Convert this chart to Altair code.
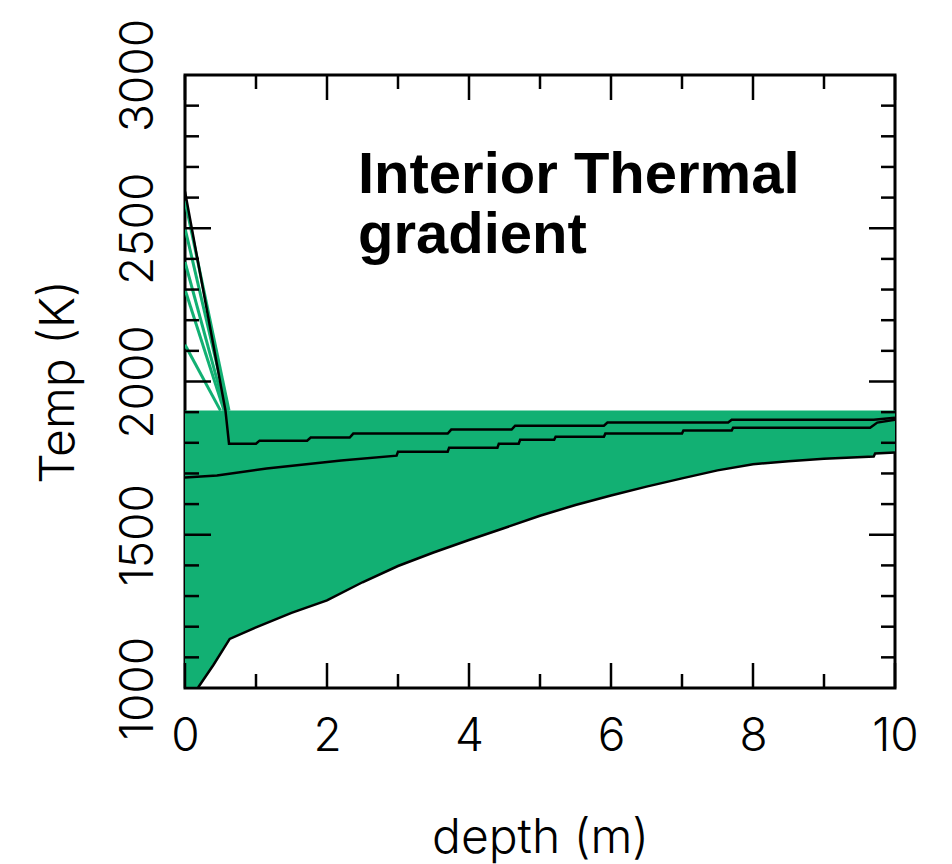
import altair as alt
import pandas as pd

# ---- data ----
lower_depth = [0, 0.18, 0.4, 0.63, 1.0, 1.5, 2.0, 2.5, 3.0, 3.5, 4.0, 4.5, 5.0, 5.5,
               6.0, 6.5, 7.0, 7.5, 8.0, 8.5, 9.0, 9.7, 9.72, 10]
lower_temp = [1000, 1000, 1075, 1160, 1198, 1245, 1286, 1345, 1398, 1442, 1483, 1522,
              1562, 1597, 1628, 1657, 1684, 1710, 1730, 1740, 1748, 1755, 1765, 1768]
upper_temp = [1905] * len(lower_depth)

a_depth = [0, 0.57, 0.62, 1.0, 1.05, 1.72, 1.77, 2.32, 2.37, 3.7, 3.75, 4.6, 4.65,
           5.9, 5.95, 7.65, 7.7, 9.7, 10]
a_temp = [2620, 1905, 1797, 1797, 1807, 1807, 1817, 1817, 1830, 1830, 1843, 1843, 1856,
          1856, 1866, 1866, 1875, 1875, 1882]

b_depth = [0, 0.45, 1.15, 2.2, 2.98, 3.0, 3.7, 3.72, 4.4, 4.42, 4.7, 4.72, 5.2, 5.22,
           5.9, 5.92, 7.0, 7.02, 7.7, 7.72, 9.65, 9.75, 10]
b_temp = [1687, 1693, 1716, 1742, 1758, 1771, 1771, 1784, 1784, 1797, 1797, 1810, 1810,
          1820, 1820, 1830, 1830, 1840, 1840, 1849, 1849, 1866, 1875]

fan_start_temp = [2590, 2500, 2390, 2300, 2120]
fan_end_depth = [0.62, 0.6, 0.57, 0.55, 0.5]
fan_end_temp = [1905, 1905, 1905, 1905, 1905]

x_major = [0, 2, 4, 6, 8, 10]
x_minor = [1, 3, 5, 7, 9]
y_major = [1000, 1500, 2000, 2500, 3000]
y_minor = [t for t in range(1100, 3000, 100) if t % 500 != 0]

title_lines = ["Interior Thermal", "gradient"]

GREEN = "#12b073"
W, H = 710, 613
FONT = "Inter"

area_df = pd.DataFrame({"depth": lower_depth, "lo": lower_temp, "hi": upper_temp})
lower_df = pd.DataFrame({"depth": lower_depth, "temp": lower_temp})
a_df = pd.DataFrame({"depth": a_depth, "temp": a_temp})
b_df = pd.DataFrame({"depth": b_depth, "temp": b_temp})
fan_rows = []
for i, (t0, d1, t1) in enumerate(zip(fan_start_temp, fan_end_depth, fan_end_temp)):
    fan_rows.append({"id": i, "depth": 0, "temp": t0})
    fan_rows.append({"id": i, "depth": d1, "temp": t1})
fan_df = pd.DataFrame(fan_rows)

xs = alt.Scale(domain=[0, 10], nice=False, zero=False)
ys = alt.Scale(domain=[1000, 3000], nice=False, zero=False)

x_axis = alt.Axis(values=x_major, format="d", ticks=False, tickSize=0, domain=False,
                  grid=False, labelFont=FONT, labelFontSize=46, labelFontWeight=300,
                  labelColor="black", labelBaseline="alphabetic", labelPadding=62,
                  labelAlign="center", labelFlush=False, labelOverlap=False,
                  title="depth (m)", titleFont=FONT, titleFontSize=48,
                  titleFontWeight=300, titleColor="black", titleBaseline="alphabetic",
                  titleX=W / 2, titleY=164, titleAlign="center")
y_axis = alt.Axis(values=y_major, format="d", ticks=False, tickSize=0, domain=False,
                  grid=False, labelFont=FONT, labelFontSize=46, labelFontWeight=300,
                  labelColor="black", labelAngle=270, labelAlign="center",
                  labelBaseline="alphabetic", labelPadding=33, labelFlush=False,
                  labelOverlap=False,
                  title="Temp (K)", titleFont=FONT, titleFontSize=48, titleFontWeight=300,
                  titleColor="black", titleAngle=270, titleBaseline="alphabetic",
                  titleAlign="center", titleX=-112, titleY=H / 2)

area = alt.Chart(area_df).mark_area(color=GREEN, opacity=1, clip=True).encode(
    x=alt.X("depth:Q", scale=xs, axis=x_axis),
    y=alt.Y("lo:Q", scale=ys, axis=y_axis),
    y2="hi:Q",
)

fan = alt.Chart(fan_df).mark_line(color=GREEN, strokeWidth=3, clip=True).encode(
    x=alt.X("depth:Q", scale=xs), y=alt.Y("temp:Q", scale=ys), detail="id:N")

lower_line = alt.Chart(lower_df).mark_line(color="black", strokeWidth=2.5, clip=True).encode(
    x=alt.X("depth:Q", scale=xs), y=alt.Y("temp:Q", scale=ys), order="depth:Q")
a_line = alt.Chart(a_df).mark_line(color="black", strokeWidth=2.5, clip=True).encode(
    x=alt.X("depth:Q", scale=xs), y=alt.Y("temp:Q", scale=ys), order="depth:Q")
b_line = alt.Chart(b_df).mark_line(color="black", strokeWidth=2.5, clip=True).encode(
    x=alt.X("depth:Q", scale=xs), y=alt.Y("temp:Q", scale=ys), order="depth:Q")

def xticks(vals, length):
    d = pd.DataFrame({"v": vals})
    bottom = alt.Chart(d).mark_rule(color="black", strokeWidth=2.5).encode(
        x=alt.X("v:Q", scale=xs), y=alt.value(H), y2=alt.value(H - length))
    top = alt.Chart(d).mark_rule(color="black", strokeWidth=2.5).encode(
        x=alt.X("v:Q", scale=xs), y=alt.value(0), y2=alt.value(length))
    return bottom + top

def yticks(vals, length):
    d = pd.DataFrame({"v": vals})
    left = alt.Chart(d).mark_rule(color="black", strokeWidth=2.5).encode(
        y=alt.Y("v:Q", scale=ys), x=alt.value(0), x2=alt.value(length))
    right = alt.Chart(d).mark_rule(color="black", strokeWidth=2.5).encode(
        y=alt.Y("v:Q", scale=ys), x=alt.value(W), x2=alt.value(W - length))
    return left + right

def text_line(txt, ypix):
    return alt.Chart(pd.DataFrame({"t": [txt]})).mark_text(
        font="Liberation Sans", fontSize=58, fontWeight="bold", color="black",
        align="left", baseline="alphabetic",
    ).encode(text="t:N", x=alt.value(173), y=alt.value(ypix))

chart = alt.layer(
    area, fan, lower_line, b_line, a_line,
    xticks(x_major, 25), xticks(x_minor, 14),
    yticks([v for v in y_major if v not in (1000, 3000)], 26), yticks(y_minor, 14),
    text_line(title_lines[0], 118), text_line(title_lines[1], 178),
).properties(
    width=W, height=H,
    autosize=alt.AutoSizeParams(type="none"),
    padding={"left": 185, "top": 75, "right": 57, "bottom": 176},
    background="white",
).configure_view(stroke="black", strokeWidth=3)

chart.save("out.html", embed_options={"renderer": "svg", "actions": False})
